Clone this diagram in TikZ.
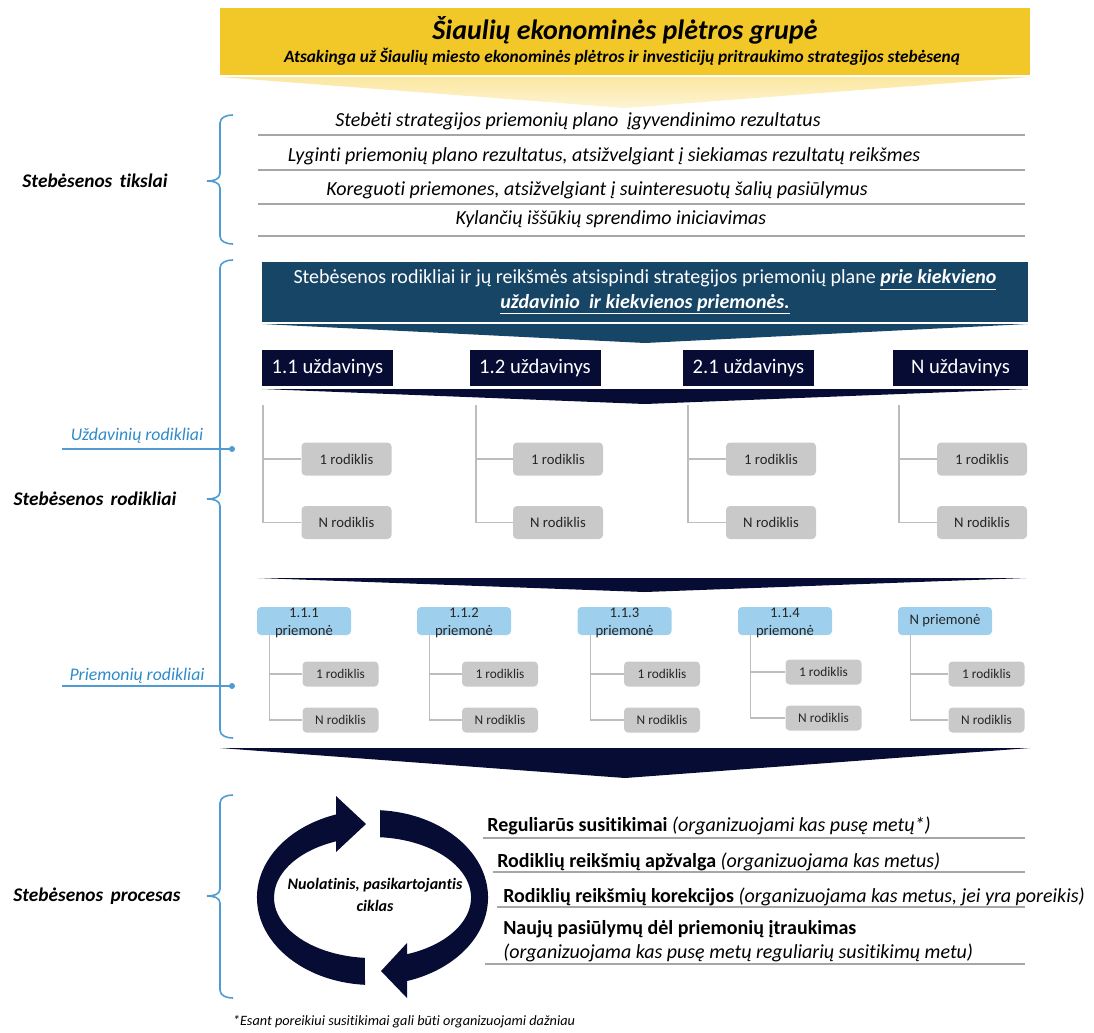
\documentclass[tikz,border=0pt]{standalone}
\usepackage{fontspec}
\setmainfont{Carlito}[Ligatures=NoCommon]
\usetikzlibrary{arrows.meta,calc}
\definecolor{hdrY}{HTML}{F2C828}
\definecolor{hdrYl}{HTML}{FBE7A0}
\definecolor{bannerB}{HTML}{174566}
\definecolor{navyD}{HTML}{060C33}
\definecolor{boxG}{HTML}{C9C9C9}
\definecolor{lineG}{HTML}{BDBDBD}
\definecolor{ruleG}{HTML}{A6A6A6}
\definecolor{lblue}{HTML}{9ED0EE}
\definecolor{braceB}{HTML}{4F9BD2}
\definecolor{txtB}{HTML}{2E8BC9}
\newcommand\pxu{0.75pt}
\begin{document}
\begin{tikzpicture}[x=0.75pt,y=-0.75pt,
  goal/.style={font=\fontsize{15}{17}\selectfont\itshape, inner sep=0pt},
  rulel/.style={draw=ruleG, line width=1.1pt},
  sidelbl/.style={font=\fontsize{14.5}{17}\selectfont\bfseries\itshape, inner sep=0pt},
  bluelbl/.style={font=\fontsize{13.3}{15}\selectfont\itshape, text=txtB, inner sep=0pt},
  bracec/.style={draw=braceB, line width=1.2pt},
  uzbox/.style={fill=navyD, text=white, minimum width=131*\pxu, minimum height=36*\pxu, inner sep=0pt, font=\fontsize{15.5}{18}\selectfont},
  rodbig/.style={fill=boxG, rounded corners=3pt, minimum width=90*\pxu, minimum height=33*\pxu, inner sep=0pt, font=\fontsize{11}{13}\selectfont, text=black!85},
  rodsm/.style={fill=boxG, rounded corners=3pt, minimum width=76*\pxu, minimum height=25*\pxu, inner sep=0pt, font=\fontsize{10}{12}\selectfont, text=black!85},
  prbox/.style={fill=lblue, rounded corners=3pt, minimum width=94*\pxu, minimum height=28*\pxu, inner sep=0pt},
  prtext/.style={inner sep=0pt, align=center, font=\fontsize{11}{13.5}\selectfont, text=black!85},
  treel/.style={draw=lineG, line width=1pt},
  procl/.style={anchor=west, inner sep=0pt, font=\fontsize{15}{18}\selectfont}
]
\useasboundingbox (0,0) rectangle (1094,1032);

% ---------- header ----------
\fill[hdrY] (220,8) rectangle (1030,75);
\node (title) at (625,30) {\fontsize{21}{24}\selectfont\bfseries\itshape Šiaulių ekonominės plėtros grupė};
\node (subtitle) at (622,57) {\fontsize{13}{15}\selectfont\bfseries\itshape Atsakinga už Šiaulių miesto ekonominės plėtros ir investicijų pritraukimo strategijos stebėseną};
\shade[top color=hdrYl, bottom color=hdrYl!45] (220,77) -- (1030,77) -- (625,108) -- cycle;

% ---------- braces ----------
\draw[bracec] (233,115) to[out=180,in=90] (220,123) -- (220,174) to[out=-90,in=0] (207,181) to[out=0,in=90] (220,188) -- (220,236) to[out=-90,in=180] (233,244);
\draw[bracec] (233,260) to[out=180,in=90] (220,268) -- (220,492) to[out=-90,in=0] (207,499) to[out=0,in=90] (220,506) -- (220,730) to[out=-90,in=180] (233,738);
\draw[bracec] (233,795) to[out=180,in=90] (220,803) -- (220,889) to[out=-90,in=0] (207,896) to[out=0,in=90] (220,903) -- (220,990) to[out=-90,in=180] (233,998);

\node[sidelbl] (l1) at (95,181) {Stebėsenos\hspace{0.15em} tikslai};
\node[sidelbl] (l2) at (95,499) {Stebėsenos\hspace{0.15em} rodikliai};
\node[sidelbl] (l3) at (97,896) {Stebėsenos\hspace{0.15em} procesas};

% ---------- goals ----------
\node[goal] (g1) at (578,121) {Stebėti strategijos priemonių plano \ įgyvendinimo rezultatus};
\node[goal] (g2) at (604,156) {Lyginti priemonių plano rezultatus, atsižvelgiant į siekiamas rezultatų reikšmes};
\node[goal] (g3) at (597,190) {Koreguoti priemones, atsižvelgiant į suinteresuotų šalių pasiūlymus};
\node[goal] (g4) at (611,219) {Kylančių iššūkių sprendimo iniciavimas};
\draw[rulel] (258,135) -- (1025,135);
\draw[rulel] (258,170) -- (1025,170);
\draw[rulel] (258,204) -- (1025,204);
\draw[rulel] (258,236) -- (1025,236);

% ---------- banner ----------
\node[fill=bannerB, minimum width=766*\pxu, minimum height=60*\pxu, text=white, align=center, inner sep=0pt,
  font=\fontsize{15}{18.5}\selectfont] (banner) at (645,292)
  {Stebėsenos rodikliai ir jų reikšmės atsispindi strategijos priemonių plane \textbf{\textit{\underline{prie kiekvieno}}}\\
   \textbf{\textit{\underline{uždavinio \ ir kiekvienos priemonės.}}}};
\fill[bannerB] (262,324) -- (1028,324) -- (645,343) -- cycle;

% ---------- uzdaviniai ----------
\node[uzbox] (u1) at (327.5,368) {1.1 uždavinys};
\node[uzbox] (u2) at (535,368) {1.2 uždavinys};
\node[uzbox] (u3) at (748.5,368) {2.1 uždavinys};
\node[uzbox, minimum width=135*\pxu] (u4) at (960.5,368) {N uždavinys};
\fill[navyD] (262,389) -- (1028,389) -- (645,404) -- cycle;

\foreach \i/\cx/\tx in {1/346.5/263, 2/558/476, 3/771/688, 4/982/899}{
  \node[rodbig] (ua\i) at (\cx,459) {1 rodiklis};
  \node[rodbig] (ub\i) at (\cx,522.5) {N rodiklis};
  \coordinate (ut\i) at (\tx,405);
  \draw[treel] (ut\i) |- (ua\i.west);
  \draw[treel] (ut\i) |- (ub\i.west);
}

\coordinate (ul0) at (62,449);
\coordinate (ul1) at (232,449);
\draw[braceB, line width=1.1pt] (ul0) -- (ul1);
\fill[braceB] (ul1) circle (3);
\node[bluelbl] (uzl) at (137,436) {Uždavinių rodikliai};

% ---------- separator ----------
\fill[navyD] (258,578) -- (1026,578) -- (645,592) -- cycle;

% ---------- priemones ----------
\foreach \i/\cx in {1/304, 2/464, 3/624.5, 4/785, 5/945}{
  \node[prbox] (pm\i) at (\cx,621) {};
}
\node[prtext] (pm1t) at (304,623) {1.1.1\\priemonė};
\node[prtext] (pm2t) at (464,623) {1.1.2\\priemonė};
\node[prtext] (pm3t) at (624.5,623) {1.1.3\\priemonė};
\node[prtext] (pm4t) at (785,623) {1.1.4\\priemonė};
\node[prtext] (pm5t) at (945,621) {N priemonė};

\foreach \i/\cx/\dy in {1/340.5/0, 2/500/0, 3/662/0, 4/823.5/-2, 5/986.5/0}{
  \node[rodsm] (pa\i) at (\cx,674+\dy) {1 rodiklis};
  \node[rodsm] (pb\i) at (\cx,720+\dy) {N rodiklis};
  \coordinate (pt\i) at ($(pm\i.south west)+(13,0)$);
  \draw[treel] (pt\i) |- (pa\i.west);
  \draw[treel] (pt\i) |- (pb\i.west);
}

\coordinate (pl0) at (62,686);
\coordinate (pl1) at (232,686);
\draw[braceB, line width=1.1pt] (pl0) -- (pl1);
\fill[braceB] (pl1) circle (3);
\node[bluelbl] (prl) at (137,676) {Priemonių rodikliai};

% ---------- big separator ----------
\fill[navyD] (220,748) -- (1030,748) -- (625,778) -- cycle;

% ---------- cycle ----------
\fill[navyD] (365,984.8) arc[start angle=93.7, end angle=251.6, x radius=115.5, y radius=87.5]
  -- (336,796) -- (366,824) -- (336,852) -- (336.1,841.3)
  arc[start angle=248.3, end angle=94.4, x radius=98.5, y radius=60.5] -- cycle;
\fill[navyD] (380,810.2) arc[start angle=273.7, end angle=432.6, x radius=115.5, y radius=87.5]
  -- (407,998) -- (381,971) -- (407,943) -- (407,954.2)
  arc[start angle=429.5, end angle=274.4, x radius=98.5, y radius=60.5] -- cycle;
\node[align=center, inner sep=0pt, font=\fontsize{12}{16}\selectfont\bfseries\itshape] (cyct) at (375,895)
  {Nuolatinis, pasikartojantis\\ciklas};

% ---------- process ----------
\node[procl] (pr1) at (487,826) {\textbf{Reguliarūs susitikimai} \textit{(organizuojami kas pusę metų*)}};
\node[procl] (pr2) at (497,862) {\textbf{Rodiklių reikšmių apžvalga} \textit{(organizuojama kas metus)}};
\node[procl] (pr3) at (503,897) {\textbf{Rodiklių reikšmių korekcijos} \textit{(organizuojama kas metus, jei yra poreikis)}};
\node[procl] (pr4) at (503,929) {\textbf{Naujų pasiūlymų dėl priemonių įtraukimas}};
\node[procl] (pr5) at (503,953) {\textit{(organizuojama kas pusę metų reguliarių susitikimų metu)}};
\draw[rulel] (483,838) -- (1025,838);
\draw[rulel] (493,872) -- (1025,872);
\draw[rulel] (497,907) -- (1025,907);
\draw[rulel] (485,964) -- (1025,964);

\node[inner sep=0pt, font=\fontsize{10.7}{12}\selectfont\itshape] (fn) at (404,1022) {*Esant poreikiui susitikimai gali būti organizuojami dažniau};
\end{tikzpicture}
\end{document}
